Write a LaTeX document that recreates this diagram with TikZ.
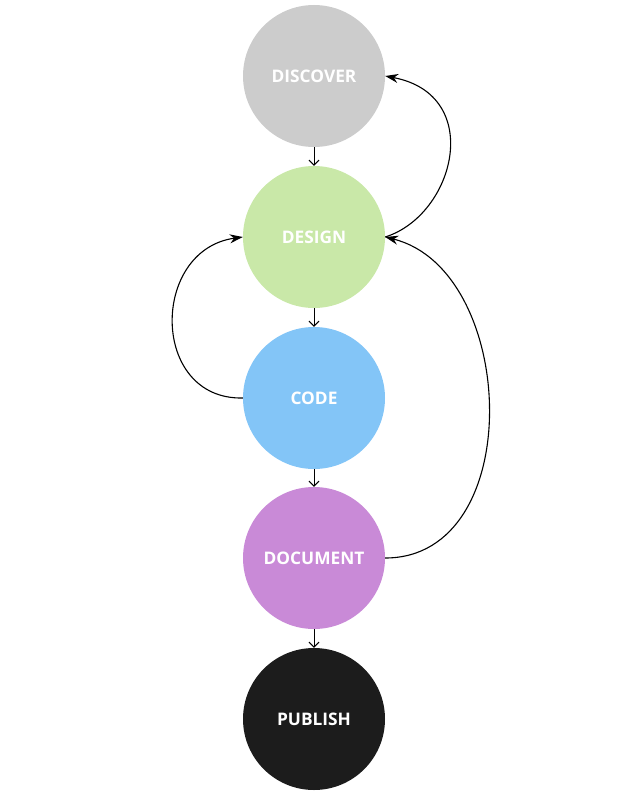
\documentclass[tikz,border=0pt]{standalone}
\usepackage{fontspec}
\setmainfont{Open Sans}
\usetikzlibrary{arrows.meta}
\definecolor{cDisc}{HTML}{CCCCCC}
\definecolor{cDes}{HTML}{C9E8A8}
\definecolor{cCode}{HTML}{83C5F7}
\definecolor{cDoc}{HTML}{C98AD7}
\definecolor{cPub}{HTML}{1C1C1C}
\tikzset{
  stage/.style={circle, minimum size=142pt, inner sep=0pt, text=white, font=\bfseries\fontsize{17.3}{20}\selectfont},
  down/.style={-{Straight Barb[length=5pt,width=10pt]}, line width=1pt},
  loop/.style={-{Stealth[length=13pt,width=9pt]}, line width=1.1pt}
}
\begin{document}
\begin{tikzpicture}[x=1pt,y=-1pt]
\useasboundingbox (0,0) rectangle (625,800);
\node[stage, fill=cDisc] (disc) at (314,76) {DISCOVER};
\node[stage, fill=cDes] (des) at (314,237) {DESIGN};
\node[stage, fill=cCode] (code) at (314,398) {CODE};
\node[stage, fill=cDoc] (doc) at (314,558) {DOCUMENT};
\node[stage, fill=cPub] (pub) at (314,719) {PUBLISH};
\draw[down] (disc.south) -- (des.north);
\draw[down] (des.south) -- (code.north);
\draw[down] (code.south) -- (doc.north);
\draw[down] (doc.south) -- (pub.north);
\draw[loop] (des.east) .. controls (455,215) and (485,95) .. (disc.east);
\draw[loop] (code.west) .. controls (150,400) and (150,250) .. (des.west);
\draw[loop] (doc.east) .. controls (528,558) and (518,270) .. (des.east);
\end{tikzpicture}
\end{document}
